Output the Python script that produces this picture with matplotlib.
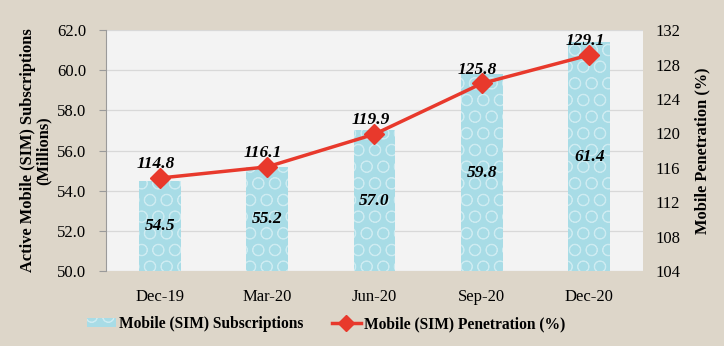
import matplotlib
matplotlib.use("Agg")
import matplotlib.pyplot as plt
from matplotlib.lines import Line2D
from matplotlib.patches import Patch

quarters = ["Dec-19", "Mar-20", "Jun-20", "Sep-20", "Dec-20"]
subscriptions = [54.5, 55.2, 57.0, 59.8, 61.4]
penetration = [114.8, 116.1, 119.9, 125.8, 129.1]

left_ticks = [50, 52, 54, 56, 58, 60, 62]
right_ticks = [104, 108, 112, 116, 120, 124, 128, 132]

plt.rcParams["font.family"] = ["Liberation Serif", "DejaVu Serif"]
plt.rcParams["hatch.linewidth"] = 0.6

BG = "#ddd6c9"
PLOT_BG = "#f3f3f3"
BAR = "#a8dce6"
LINE = "#e8392c"

fig = plt.figure(figsize=(7.24, 3.46), dpi=100, facecolor=BG)
ax = fig.add_axes([0.1464, 0.2168, 0.7416, 0.6962])
ax.set_facecolor(PLOT_BG)

x = list(range(len(quarters)))
bars = ax.bar(x, [v - left_ticks[0] for v in subscriptions], bottom=left_ticks[0],
              width=0.39, color=BAR, edgecolor="#cdebf1", linewidth=0,
              hatch="O", zorder=2)

ax.set_xlim(-0.5, len(quarters) - 0.5)
ax.set_ylim(left_ticks[0], left_ticks[-1])
ax.set_yticks(left_ticks)
ax.set_yticklabels([f"{t:.1f}" for t in left_ticks], fontsize=12)
ax.set_xticks(x)
ax.set_xticklabels(quarters, fontsize=12)
ax.tick_params(axis="x", length=0, pad=13)
ax.tick_params(axis="y", length=5, color="#9a9a9a", pad=9)
ax.grid(axis="y", color="#d8d8d8", linewidth=0.9, zorder=0)
ax.set_axisbelow(True)
for side in ["top", "right", "bottom"]:
    ax.spines[side].set_visible(False)
ax.spines["left"].set_color("#9a9a9a")
ax.set_ylabel("Active Mobile (SIM) Subscriptions\n(Millions)", fontsize=11.8,
              fontweight="bold", labelpad=4, linespacing=1.0)

for xi, v in zip(x, subscriptions):
    ax.text(xi, (left_ticks[0] + v) / 2, f"{v:.1f}", ha="center", va="center",
            fontsize=12.5, fontweight="bold", fontstyle="italic", zorder=4)

ax2 = ax.twinx()
ax2.set_ylim(right_ticks[0], right_ticks[-1])
ax2.set_yticks(right_ticks)
ax2.set_yticklabels([str(t) for t in right_ticks], fontsize=12)
ax2.tick_params(axis="y", length=0, pad=9)
for side in ["top", "right", "bottom", "left"]:
    ax2.spines[side].set_visible(False)
ax2.plot(x, penetration, color=LINE, linewidth=2.5, marker="D", markersize=10,
         markerfacecolor=LINE, markeredgecolor=LINE, zorder=5)
ax2.set_ylabel("Mobile Penetration (%)", fontsize=11.8, fontweight="bold",
               labelpad=10)

for xi, v in zip(x, penetration):
    ax2.annotate(f"{v:.1f}", (xi, v), xytext=(-3, 10), textcoords="offset points",
                 ha="center", va="center", fontsize=12.5, fontweight="bold",
                 fontstyle="italic", zorder=6)

handles = [
    Patch(facecolor=BAR, edgecolor="#cdebf1", linewidth=0, hatch="O"),
    Line2D([0], [0], color=LINE, linewidth=2.5, marker="D", markersize=8),
]
labels = ["Mobile (SIM) Subscriptions", "Mobile (SIM) Penetration (%)"]
fig.legend(handles, labels, loc="center", bbox_to_anchor=(326 / 724, 1 - 324 / 346),
           ncol=2, frameon=False, prop={"weight": "bold", "size": 11.2},
           handlelength=1.9, handleheight=0.6, handletextpad=0.2, columnspacing=1.8)

fig.savefig("out.png", dpi=100, facecolor=BG)
